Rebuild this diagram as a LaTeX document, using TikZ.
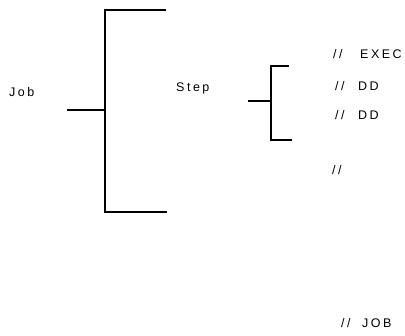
\documentclass[tikz,border=0pt]{standalone}
\usepackage{fontspec}
\setmainfont{Liberation Sans}[LetterSpace=20]
\begin{document}
\begin{tikzpicture}[x=1pt,y=-1pt,
  bracket/.style={line width=1.6pt,black},
  lbl/.style={anchor=base west,inner sep=0pt,font=\fontsize{12.5}{14}\selectfont}]
\useasboundingbox (0,0) rectangle (405,336);
% big bracket
\coordinate (bt) at (166,10);
\coordinate (bb) at (167,212);
\coordinate (bs) at (67,110);
\draw[bracket] (bt) -- (105,10) -- (105,212) -- (bb);
\draw[bracket] (bs) -- (105,110);
% small bracket
\coordinate (st) at (289,66);
\coordinate (sb) at (292,140);
\coordinate (ss) at (248,101);
\draw[bracket] (st) -- (271,66) -- (271,140) -- (sb);
\draw[bracket] (ss) -- (271,101);
% labels
\node[lbl] (job) at (9,97) {Job};
\node[lbl] (step) at (176,92) {Step};
\node[lbl] (s1) at (333,59) {//};
\node[lbl] (exec) at (360,59) {EXEC};
\node[lbl] (s2) at (335,91) {//};
\node[lbl] (dd1) at (358,91) {DD};
\node[lbl] (s3) at (335,120) {//};
\node[lbl] (dd2) at (358,120) {DD};
\node[lbl] (s4) at (332,175) {//};
\node[lbl] (s5) at (341,328) {//};
\node[lbl] (jobend) at (362,328) {JOB};
\end{tikzpicture}
\end{document}
